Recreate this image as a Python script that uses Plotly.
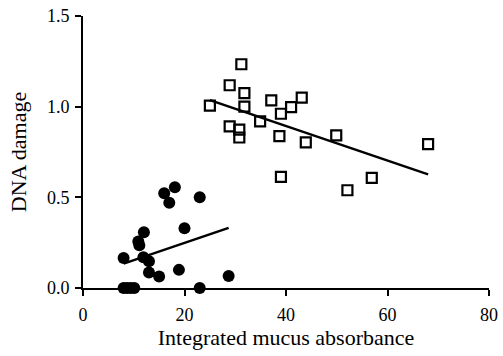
import numpy as np
import plotly.graph_objects as go

# Group A (filled circles): integrated mucus absorbance vs DNA damage
circle_x = [8.0, 8.7, 9.4, 10.1, 8.0, 12.0, 10.9, 11.1, 11.9, 13.0, 13.0, 15.0,
            18.9, 20.0, 23.0, 16.0, 18.1, 17.0, 23.0, 28.7]
circle_y = [0.0, 0.0, 0.0, 0.0, 0.166, 0.307, 0.257, 0.236, 0.169, 0.147, 0.086, 0.063,
            0.10, 0.33, 0.50, 0.523, 0.556, 0.47, 0.0, 0.066]

# Group B (open squares)
square_x = [25.0, 31.2, 28.9, 31.8, 31.8, 37.1, 39.0, 41.0, 43.1, 34.9, 28.9, 30.8,
            30.8, 38.7, 43.9, 49.9, 39.0, 52.1, 56.9, 68.0]
square_y = [1.006, 1.234, 1.118, 1.075, 1.0, 1.035, 0.961, 0.998, 1.05, 0.919, 0.891, 0.873,
            0.830, 0.837, 0.803, 0.842, 0.613, 0.539, 0.607, 0.793]

x_ticks = [0, 20, 40, 60, 80]
y_ticks = [0.0, 0.5, 1.0, 1.5]
y_tick_text = ["0.0", "0.5", "1.0", "1.5"]


def fit_line(xs, ys):
    slope, intercept = np.polyfit(xs, ys, 1)
    xl = np.array([min(xs), max(xs)])
    return xl, slope * xl + intercept


fig = go.Figure()

cx, cy = fit_line(circle_x, circle_y)
sx, sy = fit_line(square_x, square_y)

fig.add_trace(go.Scatter(x=cx, y=cy, mode="lines",
                         line=dict(color="#000000", width=2.5), cliponaxis=False))
fig.add_trace(go.Scatter(x=sx, y=sy, mode="lines",
                         line=dict(color="#000000", width=2.5), cliponaxis=False))

fig.add_trace(go.Scatter(x=circle_x, y=circle_y, mode="markers", cliponaxis=False,
                         marker=dict(symbol="circle", size=12, color="#000000",
                                     line=dict(width=0))))
fig.add_trace(go.Scatter(x=square_x, y=square_y, mode="markers", cliponaxis=False,
                         marker=dict(symbol="square-open", size=10, color="#000000",
                                     line=dict(width=2.2, color="#000000"))))

font = dict(family="Liberation Serif", color="#000000")

fig.update_layout(
    width=503, height=356,
    margin=dict(l=83, r=14, t=16, b=68),
    paper_bgcolor="white", plot_bgcolor="white",
    showlegend=False,
    font=font,
    xaxis=dict(range=[0, 80], tickvals=x_ticks, ticks="outside", ticklen=6, tickwidth=2,
               tickcolor="#000000", automargin=False, ticklabelstandoff=3,
               showline=True, linewidth=2, linecolor="#000000", showgrid=False, zeroline=False,
               tickfont=dict(size=18, **font),
               title=dict(text="Integrated mucus absorbance", font=dict(size=22, **font),
                          standoff=5)),
    yaxis=dict(range=[0, 1.5], tickvals=y_ticks, ticktext=y_tick_text, ticks="outside",
               ticklen=6, tickwidth=2, tickcolor="#000000", automargin=False,
               ticklabelstandoff=2,
               showline=True, linewidth=2, linecolor="#000000", showgrid=False, zeroline=False,
               tickfont=dict(size=18, **font),
               title=dict(text="DNA damage", font=dict(size=22, **font), standoff=14)),
)

fig.write_html("out.html")
